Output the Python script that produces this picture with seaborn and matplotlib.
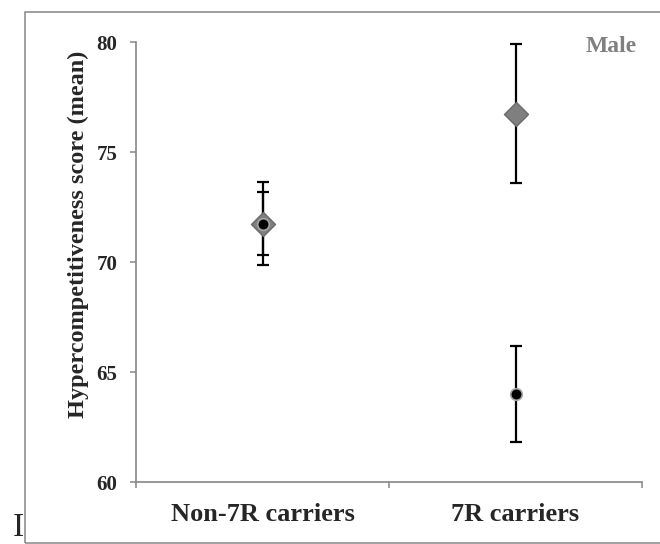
import numpy as np
import pandas as pd
import matplotlib
matplotlib.use("Agg")
import matplotlib.pyplot as plt
from matplotlib.patches import Rectangle
import seaborn as sns

# datos
grupos = ["Non-7R carriers", "7R carriers"]
media_rombo = [71.75, 76.75]     # serie gris (rombo)
error_rombo = [1.9, 3.15]
media_punto = [71.75, 63.98]     # serie negra (punto)
error_punto = [1.42, 2.18]
etiquetas_y = [60, 65, 70, 75, 80]

sns.set_theme(style="white")
plt.rcParams['font.family'] = ['Liberation Serif', 'DejaVu Serif']
plt.rcParams['font.weight'] = 'bold'

gris_eje = "#868686"

df_rombo = pd.DataFrame({"grupo": grupos, "media": media_rombo, "err": error_rombo})
df_punto = pd.DataFrame({"grupo": grupos, "media": media_punto, "err": error_punto})

fig = plt.figure(figsize=(6.6, 5.44), dpi=100)
ax = fig.add_axes([136/660, 1 - 482/544, 506/660, 440/544])

# barras de error primero
ax.errorbar(df_rombo["grupo"], df_rombo["media"], yerr=df_rombo["err"], fmt="none",
            ecolor="black", elinewidth=1.6, capsize=4.3, capthick=1.6, zorder=2)
ax.errorbar(df_punto["grupo"], df_punto["media"], yerr=df_punto["err"], fmt="none",
            ecolor="black", elinewidth=1.6, capsize=4.3, capthick=1.6, zorder=2)

sns.scatterplot(data=df_rombo, x="grupo", y="media", marker="D", s=150,
                color="#7f7f7f", edgecolor="#6a6a6a", linewidth=1.0, zorder=3, ax=ax)
sns.scatterplot(data=df_punto, x="grupo", y="media", marker="o", s=70,
                color="black", edgecolor="#a6a6a6", linewidth=1.2, zorder=4, ax=ax)

ax.set_xlim(-0.5, 1.5)
ax.set_ylim(60, 80)
ax.set_yticks(etiquetas_y)
ax.set_yticklabels([str(v) for v in etiquetas_y], fontsize=15, fontweight="bold")
ax.set_xticks([0, 1])
ax.set_xticklabels(grupos, fontsize=19, fontweight="bold")
ax.set_xticks([-0.5, 0.5, 1.5], minor=True)
ax.set_xlabel("")
ax.set_ylabel("Hypercompetitiveness score (mean)", fontsize=17.5, fontweight="bold")
ax.yaxis.set_label_coords(-0.093, 0.564)

for s in ["top", "right"]:
    ax.spines[s].set_visible(False)
for s in ["left", "bottom"]:
    ax.spines[s].set_color(gris_eje)
    ax.spines[s].set_linewidth(1.2)

ax.tick_params(axis="y", which="major", direction="out", length=4.5, width=1.1,
               color=gris_eje, pad=9, left=True)
ax.tick_params(axis="x", which="major", length=0, pad=15)
ax.tick_params(axis="x", which="minor", direction="out", length=4.5, width=1.1,
               color=gris_eje, bottom=True)

fig.text(611/660, 1 - 46/544, "Male", color="#808080", fontsize=17,
         fontweight="bold", ha="center", va="center")

# marco exterior y letra suelta de la pagina
fig.patches.append(Rectangle((25/660, 1/544), 1.0, 1 - 13/544, transform=fig.transFigure,
                             fill=False, edgecolor=gris_eje, linewidth=1.1, clip_on=False))
fig.text(18.5/660, 0.002, "I", fontsize=24, fontweight="normal", ha="center", va="bottom")

fig.savefig("out.png", dpi=100)
